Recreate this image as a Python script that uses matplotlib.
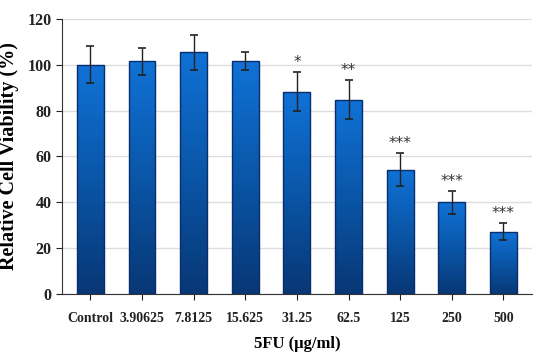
import numpy as np
import matplotlib.pyplot as plt
from matplotlib.colors import LinearSegmentedColormap

categories = ["Control", "3.90625", "7.8125", "15.625", "31.25", "62.5", "125", "250", "500"]
viability = [100.0, 101.5, 105.5, 101.6, 88.3, 84.8, 54.2, 40.0, 27.2]
errors = [8.0, 5.8, 7.6, 4.0, 8.4, 8.4, 7.2, 5.0, 3.6]
stars = ["", "", "", "", "*", "**", "***", "***", "***"]

plt.rcParams["font.family"] = ["Liberation Serif", "DejaVu Serif"]

fig = plt.figure(figsize=(5.34, 3.52), dpi=100)
ax = fig.add_axes([0.116, 0.165, 0.88, 0.781])

x = np.arange(len(categories))
bars = ax.bar(x, viability, width=0.52, color="#0b5bb0",
              edgecolor="#0a2d6b", linewidth=1.0, zorder=2)

# vertical gradient inside each bar
cmap = LinearSegmentedColormap.from_list("blues", ["#083775", "#0a56a8", "#1072d6"])
grad = np.linspace(0, 1, 256).reshape(-1, 1)
for b in bars:
    x0, w, h = b.get_x(), b.get_width(), b.get_height()
    im = ax.imshow(grad, cmap=cmap, aspect="auto", origin="lower",
                   extent=[x0, x0 + w, 0, h], zorder=2.1)
    im.set_clip_path(b)
    b.set_facecolor("none")
    b.set_zorder(2.2)

ax.errorbar(x, viability, yerr=errors, fmt="none", ecolor="#222222",
            elinewidth=1.0, capsize=3, capthick=1.2, zorder=3)

for xi, v, e, s in zip(x, viability, errors, stars):
    if s:
        ax.text(xi, v + e + 1.0, s, ha="center", va="bottom",
                fontsize=11, color="#333333", family="DejaVu Sans")

ax.set_xlim(-0.55, len(categories) - 0.45)
ax.set_ylim(0, 120)
ax.set_yticks(range(0, 121, 20))
ax.set_xticks(x)
ax.set_xticklabels(categories)
ax.grid(axis="y", color="#dddddd", linewidth=1.0, zorder=0)
ax.set_axisbelow(True)

for side in ["top", "right"]:
    ax.spines[side].set_visible(False)
ax.spines["left"].set_color("#333333")
ax.spines["bottom"].set_color("#333333")
ax.tick_params(axis="both", colors="#222222", direction="out", length=4)
ax.tick_params(axis="y", labelsize=11.5)
ax.tick_params(axis="x", labelsize=10, pad=9)
for lab in ax.get_xticklabels() + ax.get_yticklabels():
    lab.set_fontweight("bold")

ax.set_ylabel("Relative Cell Viability (%)", fontsize=14.5, fontweight="bold", labelpad=6)
ax.set_xlabel("5FU (\u00b5g/ml)", fontsize=12, fontweight="bold", labelpad=8)

fig.savefig("out.png", dpi=100)
